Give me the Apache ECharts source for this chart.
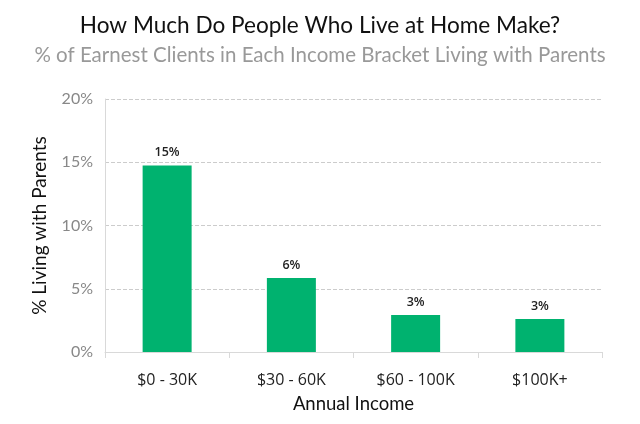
<!DOCTYPE html>
<html><head><meta charset="utf-8">
<script src="https://cdn.jsdelivr.net/npm/echarts@6/dist/echarts.min.js"></script>
<style>html,body{margin:0;padding:0;background:#fff}#c{width:640px;height:424px}</style>
</head><body><div id="c"></div>
<script>
const categories = ['$0 - 30K', '$30 - 60K', '$60 - 100K', '$100K+'];
const values = [14.75, 5.85, 2.92, 2.6];
const yTicks = [0, 5, 10, 15, 20];

const chart = echarts.init(document.getElementById('c'));
chart.setOption({
  animation: false,
  title: [
    {text: 'How Much Do People Who Live at Home Make?', left: 'center', top: 9, padding: [5, 0, 5, 10],
     textStyle: {fontFamily: 'Lato', fontWeight: 'normal', fontSize: 22.6, color: '#111'}},
    {text: '% of Earnest Clients in Each Income Bracket Living with Parents', left: 'center', top: 40, padding: [5, 0, 5, 10],
     textStyle: {fontFamily: 'Lato', fontWeight: 'normal', fontSize: 20.5, color: '#999'}}
  ],
  grid: {left: 105, right: 38, top: 99, bottom: 72},
  xAxis: {
    type: 'category', data: categories,
    name: 'Annual Income', nameLocation: 'middle', nameGap: 43,
    nameTextStyle: {fontFamily: 'Lato', fontSize: 18.5, color: '#111'},
    axisLine: {lineStyle: {color: '#d9d9d9', width: 1}},
    axisTick: {show: true, length: 6, lineStyle: {color: '#d9d9d9'}},
    axisLabel: {fontFamily: 'Open Sans', fontSize: 16, color: '#222', margin: 20}
  },
  yAxis: {
    type: 'value', min: yTicks[0], max: yTicks[yTicks.length - 1], interval: 5,
    name: '% Living with Parents', nameLocation: 'middle', nameGap: 56, nameRotate: 90,
    nameTextStyle: {fontFamily: 'Lato', fontSize: 19, color: '#111'},
    axisLine: {show: true, lineStyle: {color: '#d9d9d9'}},
    axisTick: {show: false},
    axisLabel: {formatter: v => v + '%', fontFamily: 'Lato', fontSize: 16, color: '#888', margin: 12},
    splitLine: {lineStyle: {color: '#ccc', type: 'dashed'}}
  },
  series: [{
    type: 'bar', data: values, barWidth: 49,
    itemStyle: {color: '#00b26f'},
    label: {show: true, position: 'top', distance: 6,
      formatter: p => Math.round(p.value) + '%',
      fontFamily: 'Open Sans', fontSize: 12.5, fontWeight: 600, color: '#222'}
  }]
});
</script></body></html>
